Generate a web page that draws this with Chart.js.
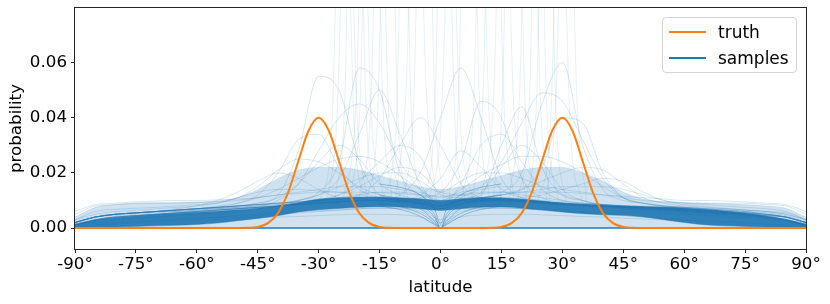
<!DOCTYPE html>
<html lang="en">
<head>
  <meta charset="UTF-8" />
  <title>Latitude density: truth vs samples</title>
  <script src="https://cdn.jsdelivr.net/npm/chart.js"></script>
  <style>
    body { margin: 0; background: #fff; font-family: "DejaVu Sans", sans-serif; }
    #wrap { position: relative; width: 830px; height: 304px; }
    #legenda { position: absolute; left: 662px; top: 17px; width: 135px; height: 56px; box-sizing: border-box;
      border: 1px solid #d4d4d4; border-radius: 4px; background: rgba(255,255,255,0.85); }
    .item { position: absolute; left: 0; width: 100%; height: 20px; }
    .item span.linha { position: absolute; left: 6px; top: 9px; width: 37px; height: 2px; }
    .item span.txt { position: absolute; left: 55px; top: 0; font-size: 17px; line-height: 20px; color: #000; }
  </style>
</head>
<body>

<div id="wrap">
  <canvas id="grafico" width="830" height="304"></canvas>
  <div id="legenda">
    <div class="item" style="top:4px"><span class="linha" style="background:#ff7f0e"></span><span class="txt">truth</span></div>
    <div class="item" style="top:30px"><span class="linha" style="background:#1f77b4"></span><span class="txt">samples</span></div>
  </div>
</div>

<script>
  // ticks
  const xTicks = [-90, -75, -60, -45, -30, -15, 0, 15, 30, 45, 60, 75, 90];
  const yTicks = [0, 0.02, 0.04, 0.06];

  // truth curve
  const truthLat = [-90, -50, -47.5, -45, -42.5, -40, -37.5, -35, -32.5, -30, -27.5, -25, -22.5, -20, -17.5, -15, -12.5, -10,
                    10, 12.5, 15, 17.5, 20, 22.5, 25, 27.5, 30, 32.5, 35, 37.5, 40, 42.5, 45, 47.5, 50, 90];
  const truthProb = [0, 0, 0.0001, 0.0004, 0.0018, 0.0054, 0.013, 0.0243, 0.0353, 0.040, 0.0353, 0.0243, 0.013, 0.0054, 0.0018, 0.0004, 0.0001, 0,
                     0, 0.0001, 0.0004, 0.0018, 0.0054, 0.013, 0.0243, 0.0353, 0.040, 0.0353, 0.0243, 0.013, 0.0054, 0.0018, 0.0004, 0.0001, 0, 0];

  // samples: shared latitude grid (every 5 deg)
  const sampleLat = [-90, -85, -80, -75, -70, -65, -60, -55, -50, -45, -40, -35, -30, -25, -20, -15, -10, -5, 0,
                     5, 10, 15, 20, 25, 30, 35, 40, 45, 50, 55, 60, 65, 70, 75, 80, 85, 90];

  // dense core of the sample cloud
  const coreHigh = [.0015, .0030, .0038, .0044, .0049, .0053, .0057, .0061, .0066, .0072, .0080, .0092, .0105, .0110, .0112, .0112, .0110, .0106, .0100,
                    .0106, .0110, .0110, .0105, .0098, .0090, .0086, .0083, .0080, .0078, .0076, .0073, .0068, .0062, .0055, .0045, .0032, .0015];
  const coreLow = [0, .0002, .0004, .0006, .0008, .0010, .0013, .0018, .0026, .0035, .0045, .0058, .0066, .0071, .0075, .0077, .0076, .0070, .0064,
                   .0070, .0075, .0076, .0072, .0065, .0058, .0052, .0048, .0046, .0040, .0030, .0020, .0012, .0008, .0006, .0004, .0002, 0];
  // faint outer envelope
  const outerHigh = [.004, .0075, .0085, .009, .0092, .0093, .0095, .0098, .011, .014, .018, .021, .022, .022, .021, .019, .017, .015, .014,
                     .015, .017, .019, .021, .022, .022, .020, .017, .013, .0105, .0095, .0092, .009, .0088, .0085, .008, .0072, .004];

  // individual sample curves on sampleLat
  const sampleCurves = [
    [.002,.004,.005,.0055,.006,.006,.0065,.007,.0075,.008,.010,.016,.028,.040,.045,.038,.024,.014,.009,.010,.010,.010,.010,.0095,.009,.0085,.008,.0078,.0075,.0072,.007,.0065,.006,.0055,.005,.004,.002],
    [.002,.004,.005,.0055,.006,.006,.0065,.007,.0072,.0075,.008,.0085,.009,.0095,.010,.010,.010,.010,.008,.011,.015,.024,.038,.049,.046,.032,.018,.011,.009,.008,.0075,.007,.0065,.006,.005,.004,.002],
    [.001,.003,.004,.0045,.005,.0055,.006,.0065,.007,.0075,.008,.009,.010,.012,.017,.024,.030,.026,.012,.011,.011,.0105,.010,.0095,.009,.0085,.008,.0075,.007,.0065,.006,.0055,.005,.0045,.004,.003,.001],
    [.001,.003,.004,.0045,.005,.0055,.006,.0065,.007,.0075,.008,.009,.010,.0105,.011,.011,.010,.009,.008,.016,.030,.034,.024,.014,.010,.009,.0085,.008,.0075,.007,.0065,.006,.0055,.005,.004,.003,.001],
    [.003,.005,.006,.0065,.007,.0075,.008,.009,.011,.015,.021,.025,.024,.020,.015,.012,.010,.009,.007,.009,.010,.010,.0095,.009,.0085,.008,.0078,.0075,.007,.0068,.0065,.006,.0055,.005,.0045,.004,.002],
    [.002,.004,.005,.0055,.006,.0065,.007,.0075,.008,.0085,.009,.0095,.010,.0105,.011,.011,.0105,.010,.009,.010,.011,.012,.014,.017,.020,.022,.021,.016,.011,.009,.008,.0075,.007,.0065,.006,.005,.003],
    [.001,.002,.003,.0035,.004,.0045,.005,.0055,.006,.007,.008,.010,.012,.015,.018,.020,.020,.017,.013,.017,.020,.020,.018,.015,.012,.010,.008,.007,.006,.0055,.005,.0045,.004,.0035,.003,.002,.001],
    [0,.001,.0015,.002,.0022,.0025,.0028,.003,.0033,.0036,.004,.0042,.0045,.0048,.005,.005,.0048,.004,.001,.004,.0048,.005,.005,.0048,.0045,.0042,.004,.0036,.0033,.003,.0028,.0025,.0022,.002,.0015,.001,0],
    [.005,.008,.0085,.009,.009,.009,.0092,.0095,.010,.011,.012,.013,.014,.015,.015,.015,.014,.013,.011,.013,.014,.015,.015,.015,.014,.013,.012,.011,.010,.0095,.0092,.009,.009,.009,.0085,.008,.005],
    [.002,.004,.005,.0055,.006,.0065,.007,.0075,.008,.009,.012,.028,.055,.050,.024,.012,.010,.009,.007,.009,.010,.010,.0095,.009,.0085,.008,.0078,.0075,.007,.0068,.0065,.006,.0055,.005,.0045,.004,.002],
    [.001,.003,.004,.0045,.005,.0055,.006,.0065,.007,.0075,.008,.0085,.009,.0095,.010,.010,.0095,.009,.007,.010,.013,.022,.030,.024,.014,.010,.0085,.008,.0075,.007,.0065,.006,.0055,.005,.004,.003,.001],
    [.001,.003,.004,.0045,.005,.0055,.006,.0065,.007,.0075,.008,.0085,.009,.010,.012,.018,.030,.040,.030,.016,.011,.010,.0095,.009,.0085,.008,.0075,.007,.0065,.006,.0055,.005,.0045,.004,.0035,.0025,.001],
    [.002,.004,.005,.0055,.006,.0065,.007,.0075,.008,.0085,.009,.0095,.010,.0105,.011,.011,.0105,.010,.008,.010,.011,.012,.013,.014,.015,.015,.015,.014,.012,.010,.009,.0085,.008,.0075,.007,.006,.003],
    [.003,.006,.0068,.0072,.0075,.008,.0085,.009,.011,.013,.014,.014,.0135,.013,.012,.011,.010,.0095,.008,.0095,.010,.010,.0098,.0095,.009,.0088,.0085,.0082,.008,.0078,.0075,.0072,.007,.0065,.006,.0055,.003],
    [.002,.004,.005,.0055,.006,.0065,.007,.0075,.008,.0085,.009,.0095,.010,.0105,.011,.011,.0105,.010,.008,.010,.011,.012,.014,.022,.040,.038,.020,.011,.009,.008,.0075,.007,.0065,.006,.005,.004,.002],
    [.002,.004,.005,.0055,.006,.0065,.007,.0075,.008,.0085,.009,.010,.012,.018,.034,.050,.034,.016,.009,.010,.0105,.0105,.010,.0095,.009,.0085,.008,.0078,.0075,.0072,.007,.0065,.006,.0055,.005,.004,.002],
    [.0005,.0015,.002,.0025,.003,.0032,.0035,.0038,.004,.0045,.005,.0055,.006,.0065,.007,.0072,.007,.006,.002,.006,.007,.0072,.007,.0066,.006,.0056,.005,.0045,.004,.0035,.003,.0026,.0022,.0018,.0014,.001,.0005],
    [.001,.003,.004,.0045,.005,.0055,.006,.0065,.007,.0075,.008,.0085,.009,.0095,.010,.010,.012,.020,.040,.058,.040,.018,.011,.0095,.009,.0085,.008,.0075,.007,.0065,.006,.0055,.005,.0045,.004,.003,.001],
    [.002,.004,.005,.0055,.006,.007,.008,.010,.013,.017,.020,.018,.014,.011,.010,.0098,.0095,.009,.007,.009,.0095,.0095,.009,.0088,.0085,.008,.0078,.0075,.0072,.007,.0068,.0065,.006,.0055,.005,.004,.002],
    [.002,.004,.005,.0055,.006,.0065,.007,.0072,.0075,.008,.0085,.009,.0095,.010,.0105,.0105,.010,.0095,.008,.0095,.010,.0105,.011,.012,.014,.016,.018,.017,.013,.010,.0085,.0078,.0072,.0066,.006,.005,.003],
    [.002,.004,.005,.0055,.006,.0065,.007,.0075,.008,.009,.011,.016,.024,.030,.025,.016,.012,.010,.008,.010,.0105,.0105,.010,.0095,.009,.0085,.008,.0078,.0075,.0072,.007,.0065,.006,.0055,.005,.004,.002],
    [.001,.003,.004,.0045,.005,.0055,.006,.0065,.007,.0075,.008,.0085,.009,.0095,.010,.010,.0095,.009,.008,.010,.012,.030,.044,.022,.012,.010,.0085,.008,.0075,.007,.0065,.006,.0055,.005,.004,.003,.001],
    [.001,.002,.003,.0035,.004,.0045,.005,.0055,.006,.007,.008,.009,.010,.012,.015,.019,.022,.020,.013,.012,.011,.0105,.010,.0095,.009,.0085,.008,.0075,.007,.0065,.006,.0055,.005,.0045,.004,.003,.001],
    [.001,.003,.004,.0045,.005,.0055,.006,.0065,.007,.0075,.008,.0085,.009,.0095,.010,.010,.010,.012,.018,.028,.022,.014,.011,.010,.009,.0085,.008,.0075,.007,.0065,.006,.0055,.005,.0045,.004,.003,.001],
    [.002,.004,.005,.0055,.006,.0065,.007,.008,.009,.011,.014,.018,.022,.025,.026,.024,.019,.014,.010,.012,.013,.013,.012,.011,.010,.009,.0085,.008,.0075,.007,.0065,.006,.0055,.005,.0045,.004,.002],
    [.002,.004,.0045,.005,.0055,.006,.0065,.007,.0075,.008,.0085,.009,.010,.011,.012,.013,.013,.012,.010,.014,.019,.023,.026,.026,.024,.020,.015,.011,.009,.008,.0075,.007,.0065,.006,.0055,.0045,.002],
    [.0005,.001,.0015,.002,.0025,.003,.0035,.004,.0045,.005,.0055,.006,.0062,.0066,.007,.0072,.0072,.007,.003,.007,.0072,.0072,.007,.0068,.0065,.006,.0058,.0055,.0052,.005,.0048,.0045,.0042,.004,.0035,.0025,.0005],
    [.002,.004,.005,.0055,.006,.0065,.007,.0075,.009,.012,.020,.032,.034,.022,.014,.011,.010,.009,.007,.009,.010,.010,.0095,.009,.0085,.008,.0078,.0075,.007,.0068,.0065,.006,.0055,.005,.0045,.004,.002],
    [.002,.004,.005,.0055,.006,.0065,.007,.0075,.008,.0085,.009,.0095,.010,.0105,.011,.011,.0105,.010,.008,.010,.011,.013,.020,.045,.060,.030,.014,.010,.009,.008,.0075,.007,.0065,.006,.005,.004,.002],
    [.002,.004,.005,.0055,.006,.0065,.007,.0075,.008,.0085,.009,.010,.013,.024,.058,.050,.020,.012,.009,.010,.0105,.0105,.010,.0095,.009,.0085,.008,.0078,.0075,.0072,.007,.0065,.006,.0055,.005,.004,.002],
    [.001,.003,.004,.0045,.005,.0055,.006,.0065,.007,.0075,.008,.0085,.009,.0095,.010,.010,.010,.011,.013,.024,.046,.040,.018,.011,.0095,.009,.0085,.008,.0075,.007,.0065,.006,.0055,.005,.004,.003,.001],
    [.006,.0085,.009,.0095,.0098,.010,.010,.0102,.0105,.011,.012,.0125,.013,.013,.013,.0128,.0125,.012,.0115,.012,.0125,.013,.013,.013,.013,.0125,.012,.0115,.011,.0105,.010,.010,.0098,.0095,.009,.0085,.006]
  ];

  // samples that drop to zero at the equator
  const veeLat = [-15, -8, -4, -1.5, 0, 1.5, 4, 8, 15];
  const veeCurves = [
    [.010, .009, .006, .0025, 0, .0025, .006, .009, .010],
    [.011, .0095, .0075, .004, 0, .004, .0075, .0095, .011],
    [.009, .007, .0045, .0018, 0, .0018, .0045, .007, .009],
    [.012, .010, .008, .005, 0, .005, .008, .010, .012],
    [.008, .006, .0035, .0012, 0, .0012, .0035, .006, .008],
    [.016, .014, .011, .007, .0015, .007, .011, .014, .016]
  ];

  // narrow samples that shoot past the top: [latitude, probability] pairs
  const spikeCurves = [
    [[-30,.009],[-27,.03],[-24,.16],[-21,.03],[-18,.01]],
    [[-26,.01],[-23.5,.05],[-21,.25],[-18.5,.05],[-16,.011]],
    [[-22,.011],[-19.5,.06],[-17,.3],[-14.5,.06],[-12,.011]],
    [[-18,.011],[-15.5,.04],[-13,.2],[-10.5,.04],[-8,.01]],
    [[-14,.011],[-11,.035],[-9,.14],[-7,.035],[-4,.01]],
    [[-9,.01],[-6.5,.05],[-4,.22],[-1.5,.05],[1,.008]],
    [[-4,.009],[-1.5,.04],[1,.18],[3.5,.04],[6,.01]],
    [[2,.009],[4.5,.05],[7,.25],[9.5,.05],[12,.011]],
    [[8,.011],[10.5,.05],[13,.2],[15.5,.05],[18,.011]],
    [[13,.011],[15.5,.06],[18,.3],[20.5,.06],[23,.011]],
    [[17,.011],[19.5,.05],[22,.2],[24.5,.05],[27,.01]],
    [[21,.01],[23.5,.04],[26,.18],[28.5,.04],[31,.009]],
    [[24,.01],[27,.035],[29.5,.14],[32,.035],[35,.009]],
    [[-24,.01],[-21,.04],[-19,.12],[-17,.04],[-14,.011]],
    [[-11,.011],[-8.5,.05],[-6,.16],[-3.5,.05],[-1,.009]],
    [[5,.01],[8,.04],[10,.13],[12,.04],[15,.011]],
    [[10,.011],[13,.045],[15.5,.16],[18,.045],[21,.011]],
    [[-20,.011],[-17,.05],[-15,.18],[-13,.05],[-10,.011]],
    [[-3,.009],[0,.035],[2.5,.12],[5,.035],[8,.01]],
    [[19,.01],[22,.05],[24,.22],[26,.05],[29,.01]],
    [[-28,.009],[-25.5,.04],[-23,.15],[-20.5,.04],[-18,.01]],
    [[26,.01],[28.5,.05],[31,.2],[33.5,.05],[36,.009]]
  ];

  const azul = '#1f77b4';
  const laranja = '#ff7f0e';
  const fonte = { family: 'DejaVu Sans', size: 16.7 };

  function pontos(lats, vals) {
    return lats.map((x, i) => ({ x: x, y: vals[i] }));
  }

  const datasets = [];
  datasets.push({ label: 'truth', data: pontos(truthLat, truthProb), borderColor: laranja, borderWidth: 2, order: 0 });
  datasets.push({ label: 'zero', data: [{ x: -90, y: 0 }, { x: 90, y: 0 }], borderColor: azul, borderWidth: 1.5, order: 1 });
  veeCurves.forEach(c => {
    datasets.push({ label: 'samples', data: pontos(veeLat, c), borderColor: 'rgba(31,119,180,0.4)', borderWidth: 1, order: 1 });
  });
  sampleCurves.forEach(c => {
    datasets.push({ label: 'samples', data: pontos(sampleLat, c), borderColor: 'rgba(31,119,180,0.18)', borderWidth: 1, order: 2 });
  });
  spikeCurves.forEach(c => {
    datasets.push({ label: 'samples', data: c.map(p => ({ x: p[0], y: p[1] })), borderColor: 'rgba(31,119,180,0.11)', borderWidth: 1, order: 2 });
  });
  // core band: upper edge filled down to the lower edge dataset that follows it
  datasets.push({ label: 'core', data: pontos(sampleLat, coreHigh), borderColor: 'rgba(31,119,180,0.45)', borderWidth: 1,
                  backgroundColor: 'rgba(31,119,180,0.9)', fill: '+1', order: 3 });
  datasets.push({ label: 'coreLow', data: pontos(sampleLat, coreLow), borderColor: 'rgba(31,119,180,0.4)', borderWidth: 1, order: 3 });
  datasets.push({ label: 'outer', data: pontos(sampleLat, outerHigh), borderColor: 'rgba(31,119,180,0.12)', borderWidth: 1,
                  backgroundColor: 'rgba(31,119,180,0.21)', fill: 'origin', order: 4 });

  const moldura = {
    id: 'moldura',
    afterDraw(chart) {
      const a = chart.chartArea, ctx = chart.ctx;
      ctx.save();
      ctx.strokeStyle = '#262626';
      ctx.lineWidth = 1;
      ctx.strokeRect(Math.round(a.left) - 0.5, Math.round(a.top) - 0.5, Math.round(a.right - a.left) + 1, Math.round(a.bottom - a.top) + 1);
      ctx.restore();
    }
  };

  new Chart(document.getElementById('grafico').getContext('2d'), {
    type: 'line',
    data: { datasets: datasets },
    options: {
      responsive: false,
      animation: false,
      devicePixelRatio: 1,
      layout: { padding: { left: 0, top: 8, right: 24, bottom: 0 } },
      elements: { point: { radius: 0 }, line: { cubicInterpolationMode: 'monotone' } },
      plugins: { legend: { display: false }, tooltip: { enabled: false } },
      scales: {
        x: {
          type: 'linear', min: -90, max: 90,
          afterBuildTicks: s => { s.ticks = xTicks.map(v => ({ value: v })); },
          afterFit: s => { s.height = 55; s.paddingLeft = 0; s.paddingRight = 0; },
          ticks: { callback: v => v + '°', font: fonte, color: '#000', padding: 2, maxRotation: 0, autoSkip: false },
          grid: { drawOnChartArea: false, drawTicks: true, tickLength: 4, color: '#262626' },
          border: { display: false },
          title: { display: true, text: 'latitude', font: fonte, color: '#000', padding: { top: 0, bottom: 6 } }
        },
        y: {
          type: 'linear', min: -0.0076, max: 0.0798,
          afterBuildTicks: s => { s.ticks = yTicks.map(v => ({ value: v })); },
          afterFit: s => { s.width = 75; s.paddingTop = 0; s.paddingBottom = 0; },
          ticks: { callback: v => v.toFixed(2), font: fonte, color: '#000', padding: 4 },
          grid: { drawOnChartArea: false, drawTicks: true, tickLength: 4, color: '#262626' },
          border: { display: false },
          title: { display: true, text: 'probability', font: fonte, color: '#000', padding: { top: 7, bottom: 0 } }
        }
      }
    },
    plugins: [moldura]
  });
</script>

</body>
</html>
